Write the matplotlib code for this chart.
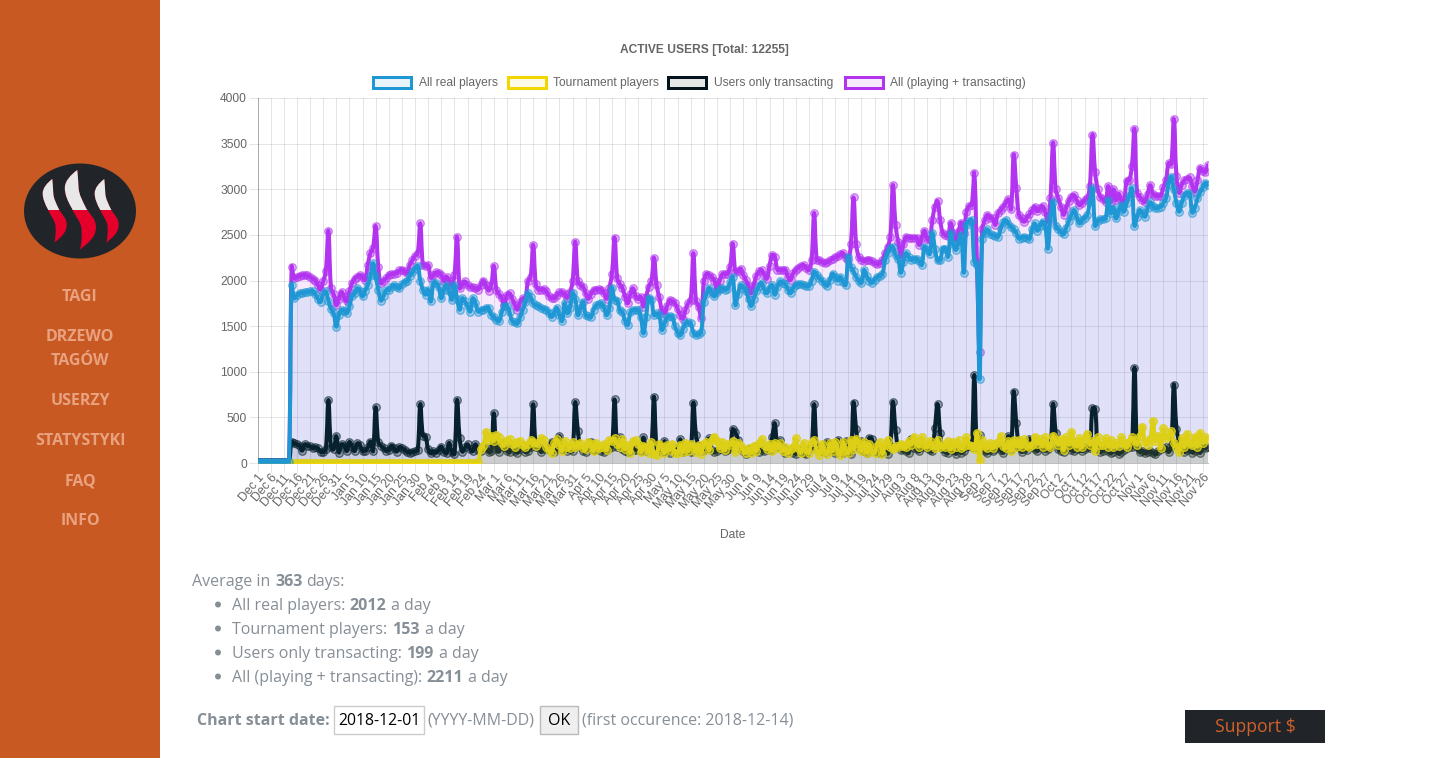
import matplotlib
matplotlib.use("Agg")
import matplotlib.pyplot as plt
import numpy as np
import pandas as pd
from matplotlib.path import Path
from matplotlib.patches import PathPatch, Rectangle, Ellipse

start_date = "2018-12-01"

real_players = [15,15,15,15,15,15,15,15,15,15,15,15,15,1950,1805,1840,1860,1865,1870,1875,
1880,1885,1850,1800,1765,1850,1880,1780,1690,1640,1494,1620,1677,1670,1640,1720,1825,1860,1915,1890,
1825,1890,1950,2050,2190,2050,1900,1780,1830,1895,1900,1930,1950,1930,1915,1960,1987,1990,2050,2090,
2130,2160,2000,1900,1845,1900,1770,1970,1975,1930,1805,1900,1950,1880,1790,1950,1800,1680,1805,1770,
1720,1660,1805,1750,1660,1680,1680,1700,1700,1625,1600,1570,1555,1650,1720,1720,1650,1555,1540,1530,
1600,1680,1760,1860,1820,1750,1730,1720,1700,1690,1680,1640,1600,1650,1700,1620,1555,1750,1640,1700,
1860,1800,1620,1700,1768,1620,1610,1600,1680,1730,1740,1750,1700,1620,1700,1920,1790,1780,1675,1650,
1560,1510,1650,1680,1675,1675,1600,1420,1600,1810,1790,1620,1640,1620,1457,1530,1600,1610,1600,1500,
1430,1400,1470,1530,1540,1530,1430,1400,1410,1440,1768,1850,1920,1870,1825,1870,1910,1920,1900,1910,
1980,2040,1730,1850,1950,1920,1885,1800,1720,1800,1880,1940,1975,1900,1860,1920,1950,1845,1930,1990,
1975,1960,1900,1860,1920,1950,1960,1960,1950,1940,1940,2000,2095,2060,2025,2000,1960,1945,2010,2075,
2040,2000,2040,1980,1950,2260,2150,2100,2040,2000,1975,2115,2050,2000,1975,2010,2040,2050,2075,2220,
2300,2355,2370,2280,2240,2085,2200,2300,2260,2225,2240,2240,2210,2170,2370,2330,2290,2520,2350,2220,
2225,2350,2350,2260,2518,2400,2335,2420,2500,2086,2608,2650,2663,2207,2170,920,2460,2520,2560,2510,
2500,2490,2480,2560,2640,2663,2620,2590,2560,2520,2460,2470,2480,2470,2460,2560,2625,2545,2600,2645,
2600,2350,2700,2865,2600,2560,2530,2505,2580,2650,2720,2772,2700,2625,2660,2690,2718,2860,3010,2598,
2650,2670,2675,2680,2883,2736,2800,2680,2760,2827,2755,2850,2930,3010,2600,2700,2772,2740,2700,2790,
2857,2820,2790,2800,2810,2850,2900,3060,3138,3000,2850,2755,2850,2930,2963,2950,2745,2800,2900,2965,
3020,3070,3050]

all_users = [15,15,15,15,15,15,15,15,15,15,15,15,15,2150,2024,2040,2050,2060,2060,2055,
2040,2020,2000,1950,1900,1990,2100,2545,1915,1850,1730,1800,1875,1820,1770,1880,1970,2020,2040,2060,
2040,2005,2170,2300,2360,2595,2150,1970,2000,2025,2060,2070,2075,2080,2110,2120,2100,2080,2170,2225,
2270,2300,2625,2170,2160,2165,2030,2060,2090,2085,2060,1990,2040,2000,1950,2060,2480,1915,1960,1990,
1950,1930,1925,1915,1900,1950,2000,1950,1890,1950,2160,1900,1850,1810,1730,1840,1860,1800,1730,1680,
1760,1805,1800,1990,2040,2390,1960,1900,1900,1905,1880,1830,1810,1805,1840,1870,1870,1850,1810,1870,
1990,2425,2000,1950,1930,1860,1800,1850,1895,1900,1905,1900,1860,1800,1920,2075,2470,2025,1960,1915,
1820,1750,1850,1915,1830,1800,1820,1715,1820,1930,1990,2250,1950,1820,1680,1640,1720,1785,1770,1750,
1690,1620,1580,1680,1750,1790,2300,1780,1715,1585,1990,2075,2060,2040,2000,1895,2000,2070,2070,2075,
2150,2405,2095,2100,2130,2060,2005,1940,1860,1950,2050,2100,2115,2060,2020,2160,2280,2260,2120,2115,
2115,2115,2040,2005,2080,2115,2140,2160,2170,2140,2115,2220,2740,2225,2220,2200,2190,2200,2220,2240,
2255,2265,2285,2300,2250,2225,2400,2910,2400,2260,2225,2215,2225,2230,2210,2190,2180,2190,2225,2300,
2370,2475,3045,2610,2425,2260,2400,2480,2470,2465,2470,2470,2390,2470,2545,2460,2440,2660,2810,2870,
2660,2520,2500,2490,2630,2520,2445,2540,2635,2520,2755,2816,2830,3175,2200,1220,2560,2660,2720,2690,
2680,2610,2735,2770,2810,2850,2890,2780,3380,3010,2720,2680,2645,2690,2725,2770,2810,2760,2790,2815,
2750,2645,2900,3510,3000,2900,2810,2720,2800,2870,2920,2935,2880,2825,2850,2880,2900,3035,3600,3190,
3000,2920,2890,2865,3035,2860,3000,2880,2950,2880,2860,3090,3100,3250,3660,2960,2920,2880,2860,2950,
3045,2950,2930,2925,2930,3020,3100,3285,3280,3770,3140,2960,3050,3100,3115,3130,3040,2975,3100,3235,
3200,3190,3265]

transacting = [15,15,15,15,15,15,15,15,15,15,15,15,15,235,215,205,190,135,205,190,
185,165,170,160,125,120,150,690,180,150,295,115,205,190,130,230,180,130,215,195,
130,135,170,235,130,610,230,190,165,135,140,190,160,125,175,165,145,120,115,120,
130,140,645,300,290,150,105,130,115,140,180,125,110,220,120,100,690,270,125,170,
205,150,130,205,140,135,170,180,120,130,545,150,125,220,180,130,120,170,130,115,
150,190,120,130,170,645,170,180,120,150,170,140,230,120,160,295,150,170,130,150,
130,665,355,170,130,120,160,234,140,150,165,130,120,145,165,180,697,170,280,150,
130,120,165,140,145,170,135,280,130,140,180,727,170,150,120,240,130,110,170,145,
130,260,120,135,150,120,660,305,190,130,140,165,270,145,120,130,155,170,130,140,
160,370,335,250,150,130,100,150,130,155,170,120,145,130,150,140,280,435,170,250,
160,110,130,140,115,100,130,145,110,100,150,170,645,170,140,130,120,230,145,135,
110,255,140,115,245,130,100,660,370,160,240,130,110,275,260,150,120,110,130,150,
100,190,670,360,170,140,150,130,110,260,165,150,130,170,190,160,140,130,388,647,
325,150,120,110,160,140,100,150,110,130,170,190,180,965,170,305,150,130,110,140,
130,150,170,140,110,160,295,150,780,435,170,120,150,140,265,170,155,130,170,160,
135,150,170,647,330,150,130,120,160,170,140,130,155,165,130,150,170,160,600,590,
150,120,135,160,130,110,125,150,100,120,145,160,170,175,1045,170,120,135,105,120,
130,110,95,130,150,165,170,120,190,860,375,240,150,120,140,150,115,130,150,110,
170,165,180]

tournament = [5,5,5,5,5,5,5,5,5,5,5,5,5,5,5,5,5,5,5,5,
5,5,5,5,5,5,5,5,5,5,5,5,5,5,5,5,5,5,5,5,
5,5,5,5,5,5,5,5,5,5,5,5,5,5,5,5,5,5,5,5,
5,5,5,5,5,5,5,5,5,5,5,5,5,5,5,5,5,5,5,5,
5,5,5,5,10,150,190,345,250,300,240,310,280,220,190,250,260,210,180,230,
240,200,170,210,250,235,190,220,270,250,170,140,110,220,260,200,130,240,180,160,
230,170,200,220,160,150,230,210,130,220,165,180,210,140,250,240,270,210,180,260,
150,200,110,240,250,210,120,190,180,110,230,100,90,210,170,110,200,140,210,110,
110,200,120,220,130,210,180,120,200,100,210,230,140,250,290,240,160,230,140,210,
195,240,120,220,190,140,110,165,110,190,130,220,260,200,150,210,130,220,160,215,
130,170,105,150,180,270,160,110,220,150,110,230,250,140,90,210,130,100,215,130,
230,150,90,230,140,105,250,150,265,210,130,230,110,210,140,110,190,230,100,200,
250,170,150,190,170,210,190,170,240,200,290,230,180,280,210,170,240,195,160,250,
170,200,170,240,150,230,180,250,160,190,280,200,190,150,330,30,250,190,165,220,
160,210,230,300,190,160,240,130,250,180,250,170,260,200,170,200,290,210,260,180,
280,200,170,300,250,200,260,140,280,200,340,230,180,270,170,260,320,200,240,130,
280,200,200,270,180,250,170,220,190,280,220,170,230,280,250,200,300,400,230,200,
260,465,240,300,160,380,270,300,350,220,180,120,270,170,320,220,200,290,180,330,
220,280,260]

series_names = ["All real players", "Tournament players", "Users only transacting", "All (playing + transacting)"]
series_values = [real_players, tournament, transacting, all_users]
series_colors = ["#1f97d4", "#f2d600", "#05141c", "#b233f0"]
marker_alpha = [(0.35, 0.6), (0.6, 0.95), (0.3, 0.6), (0.35, 0.6)]
yticks = [0, 500, 1000, 1500, 2000, 2500, 3000, 3500, 4000]
dates = pd.date_range(start_date, periods=len(real_players))
date_labels = [f"{d.strftime('%b')} {d.day}" for d in dates]

W, H = 1440, 758
PX = 72 / 100
fig = plt.figure(figsize=(W / 100, H / 100), dpi=100, facecolor="white")

pg = fig.add_axes([0, 0, 1, 1], zorder=0)
pg.set_xlim(0, W)
pg.set_ylim(H, 0)
pg.axis("off")
OS = "Open Sans"
LS = "Liberation Sans"
ORANGE = "#c85922"
DARK = "#212529"
GREY = "#868e96"

pg.add_patch(Rectangle((0, 0), 160, H, fc=ORANGE, ec="none"))
pg.add_patch(Ellipse((80, 211), 112, 95, fc=DARK, ec="none"))

flame_shape = [(52.3, 179), (47, 183), (42.7, 188), (42.7, 193.3), (42.7, 199), (45, 204), (48.3, 210),
               (50.5, 216), (55, 220), (55.5, 226), (56, 233), (55.5, 238), (54.3, 242.7),
               (60, 238), (66.7, 233), (66.7, 225), (66.7, 218), (62.5, 215), (59.3, 210),
               (56, 203), (53.7, 199), (53.3, 193.3), (53, 187), (52.6, 183), (52.3, 179)]
for ox, oy, kx, ky in [(52.3, 179, 1.0, 1.0), (77.3, 170, 1.3, 1.25), (104.3, 179, 1.0, 1.0)]:
    verts = [(ox + (a - 52.3) * kx, oy + (b - 179) * ky) for a, b in flame_shape]
    path = Path(verts, [Path.MOVETO] + [Path.CURVE4] * (len(verts) - 1))
    pg.add_patch(PathPatch(path, fc="#e4002b", ec="none"))
    white = PathPatch(path, fc="#e8e8e8", ec="none")
    pg.add_patch(white)
    white.set_clip_path(Rectangle((0, 0), 160, 210, transform=pg.transData))

for label, yy in [("TAGI", 295), ("DRZEWO", 335), ("TAGÓW", 359), ("USERZY", 399),
                  ("STATYSTYKI", 439), ("FAQ", 479), ("INFO", 519)]:
    pg.text(80, yy + 2.3, label, family=OS, weight="bold", size=16 * PX, color="#e9a280", ha="center", va="center")

body = dict(family=OS, size=16 * PX, color=GREY, va="center")
DY = 1.8
pg.text(192, 580 + DY, "Average in", **body)
pg.text(275, 580 + DY, "363", weight="bold", **body)
pg.text(306, 580 + DY, "days:", **body)
rows = [(604, "All real players:", 349, "2012", 391), (628, "Tournament players:", 392, "153", 425),
        (652, "Users only transacting:", 406, "199", 439), (676, "All (playing + transacting):", 426, "2211", 468)]
for yy, lab, bx, num, ax_ in rows:
    pg.add_patch(Ellipse((218, yy + 0.5), 6, 6, fc=GREY, ec="none"))
    pg.text(232, yy + DY, lab, **body)
    pg.text(bx, yy + DY, num, weight="bold", **body)
    pg.text(ax_, yy + DY, "a day", **body)

pg.text(197, 719 + DY, "Chart start date:", weight="bold", **body)
pg.add_patch(Rectangle((334, 706), 90, 28, fc="white", ec="#cccccc", lw=1))
pg.text(338, 719.5 + DY, "2018-12-01", family=OS, size=15.8 * PX, color="black", va="center")
pg.text(427, 719 + DY, "(YYYY-MM-DD)", **body)
pg.add_patch(Rectangle((540, 706), 38, 28, fc="#efefef", ec="#bbbbbb", lw=1))
pg.text(559, 719.5 + DY, "OK", family=OS, size=16 * PX, color="black", va="center", ha="center")
pg.text(582, 719 + DY, "(first occurence: 2018-12-14)", **body)
pg.add_patch(Rectangle((1185, 710), 140, 33, fc=DARK, ec="none"))
pg.text(1255, 727.5, "Support $", family=OS, size=17.6 * PX, color="#d2602a", va="center", ha="center")

CH = dict(family=LS, color="#666666")
pg.text(704, 49.5, "ACTIVE USERS [Total: 12255]", weight="bold", size=12 * PX, ha="center", va="center", **CH)
pg.text(733, 534.5, "Date", size=12 * PX, ha="center", va="center", **CH)
legend_x = [(373, 419), (508, 553), (668, 714), (845, 890)]
for (bx, tx), name, col in zip(legend_x, series_names, series_colors):
    pg.add_patch(Rectangle((bx, 76.5), 38, 11.5, fc=matplotlib.colors.to_rgba(col, 0.1),
                           ec=col, lw=3 * PX))
    pg.text(tx, 83, name, size=12 * PX, ha="left", va="center", **CH)

L, R, T, B = 257.5, 1208, 98, 463
ax = fig.add_axes([L / W, 1 - B / H, (R - L) / W, (B - T) / H], zorder=1)
ax.patch.set_alpha(0)
n = len(real_players)
xs = np.arange(n)
ax.set_xlim(0, n - 1)
ax.set_ylim(0, 4000)
sx = (R - L) / (n - 1)
sy = (B - T) / 4000


def spline(y, tension=0.4):
    px = xs * sx
    py = np.asarray(y, float) * sy
    verts = [(xs[0], y[0])]
    codes = [Path.MOVETO]
    cp_prev = np.zeros((n, 2))
    cp_next = np.zeros((n, 2))
    for i in range(n):
        a, b, c = max(i - 1, 0), i, min(i + 1, n - 1)
        d01 = np.hypot(px[b] - px[a], py[b] - py[a])
        d12 = np.hypot(px[c] - px[b], py[c] - py[b])
        tot = d01 + d12 or 1
        fa, fb = tension * d01 / tot, tension * d12 / tot
        dx, dy = px[c] - px[a], py[c] - py[a]
        cp_prev[i] = (px[b] - fa * dx, py[b] - fa * dy)
        cp_next[i] = (px[b] + fb * dx, py[b] + fb * dy)
    for i in range(n - 1):
        verts += [(cp_next[i][0] / sx, cp_next[i][1] / sy),
                  (cp_prev[i + 1][0] / sx, cp_prev[i + 1][1] / sy),
                  (xs[i + 1], y[i + 1])]
        codes += [Path.CURVE4] * 3
    return verts, codes


for k in [3, 2, 1, 0]:
    vals, col = series_values[k], series_colors[k]
    z = 5 + (3 - k) * 2
    v, c = spline(vals)
    fill = Path(v + [(xs[-1], 0), (xs[0], 0), (xs[0], vals[0])], c + [Path.LINETO, Path.LINETO, Path.CLOSEPOLY])
    ax.add_patch(PathPatch(fill, fc=matplotlib.colors.to_rgba(col, 0.1), ec="none", zorder=z))
    ax.add_patch(PathPatch(Path(v, c), fc="none", ec=col, lw=4 * PX, zorder=z, capstyle="round", joinstyle="round"))
    fa_, ea_ = marker_alpha[k]
    ax.plot(xs, vals, ls="none", marker="o", ms=7.5 * PX,
            mfc=matplotlib.colors.to_rgba(col, fa_), mec=matplotlib.colors.to_rgba(col, ea_),
            mew=1.3 * PX, zorder=z + 1, clip_on=True)

ax.set_xticks(xs[::5])
ax.set_xticklabels(date_labels[::5], rotation=50, ha="right", va="top", rotation_mode="anchor",
                   family=LS, size=12.2 * PX, color="#666666")
ax.set_yticks(yticks)
ax.set_yticklabels([str(v) for v in yticks], family=LS, size=12 * PX, color="#666666")
ax.tick_params(axis="both", length=9 * PX, width=1 * PX, color=(0, 0, 0, 0.1), pad=1)
ax.tick_params(axis="x", pad=0)
ax.grid(True, color="black", alpha=0.1, lw=1 * PX)
ax.set_axisbelow(True)
for name, sp in ax.spines.items():
    sp.set_visible(name in ("left", "bottom"))
    sp.set_color((0, 0, 0, 0.25))
    sp.set_linewidth(1 * PX)
    sp.set_zorder(2)

fig.savefig("out.png", dpi=100)
